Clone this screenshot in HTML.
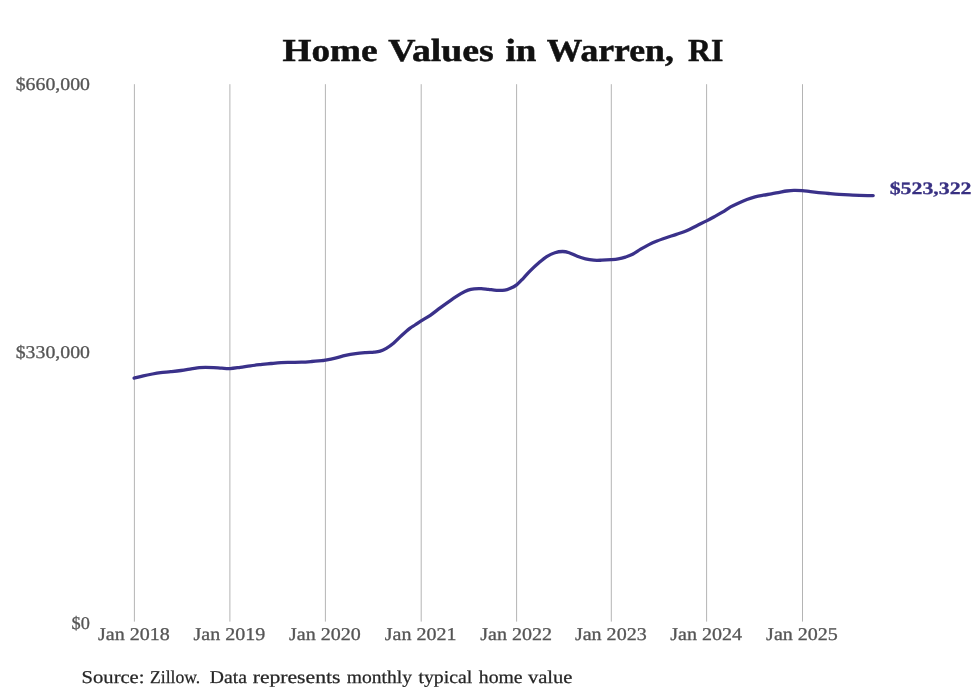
<!DOCTYPE html>
<html lang="en">
<head>
<meta charset="utf-8">
<title>Home Values in Warren, RI</title>
<style>
html,body{margin:0;padding:0;background:#ffffff;}
body{width:980px;height:699px;overflow:hidden;font-family:"Liberation Serif",serif;}
svg{display:block;will-change:transform;}
text{font-family:"Liberation Serif",serif;text-rendering:geometricPrecision;}
.tick{fill:#555555;font-size:18.00px;stroke:#555555;stroke-width:0.3px;}
.src{fill:#262626;font-size:18.10px;stroke:#262626;stroke-width:0.25px;}
.title{fill:#111111;font-size:32.00px;font-weight:bold;stroke:#111111;stroke-width:0.5px;}
.val{fill:#383082;font-size:17.40px;font-weight:bold;stroke:#383082;stroke-width:0.3px;}
</style>
</head>
<body>
<svg width="980" height="699" viewBox="0 0 980 699">
<rect x="0" y="0" width="980" height="699" fill="#ffffff"/>
<g stroke="#b4b4b4" stroke-width="1.00" fill="none">
<line x1="134.40" y1="84.20" x2="134.40" y2="621.60"/>
<line x1="229.90" y1="84.20" x2="229.90" y2="621.60"/>
<line x1="325.40" y1="84.20" x2="325.40" y2="621.60"/>
<line x1="421.20" y1="84.20" x2="421.20" y2="621.60"/>
<line x1="516.60" y1="84.20" x2="516.60" y2="621.60"/>
<line x1="611.30" y1="84.20" x2="611.30" y2="621.60"/>
<line x1="706.60" y1="84.20" x2="706.60" y2="621.60"/>
<line x1="802.50" y1="84.20" x2="802.50" y2="621.60"/>
</g>
<path transform="translate(0 0.3)" d="M134.10 377.80 C135.63 377.42 140.25 376.18 143.30 375.50 C146.35 374.82 149.52 374.22 152.40 373.70 C155.28 373.18 157.53 372.78 160.60 372.40 C163.67 372.02 167.40 371.77 170.80 371.40 C174.20 371.03 177.60 370.67 181.00 370.20 C184.40 369.73 188.13 369.08 191.20 368.60 C194.27 368.12 197.02 367.57 199.40 367.30 C201.78 367.03 203.12 367.00 205.50 367.00 C207.88 367.00 210.98 367.15 213.70 367.30 C216.42 367.45 219.08 367.73 221.80 367.90 C224.52 368.07 226.92 368.45 230.00 368.30 C233.08 368.15 236.88 367.47 240.30 367.00 C243.72 366.53 247.10 365.95 250.50 365.50 C253.90 365.05 257.30 364.68 260.70 364.30 C264.10 363.92 267.50 363.53 270.90 363.20 C274.30 362.87 277.70 362.48 281.10 362.30 C284.50 362.12 287.90 362.17 291.30 362.10 C294.70 362.03 298.10 362.05 301.50 361.90 C304.90 361.75 308.30 361.47 311.70 361.20 C315.10 360.93 319.58 360.53 321.90 360.30 C324.22 360.07 323.37 360.22 325.60 359.80 C327.83 359.38 331.98 358.58 335.30 357.80 C338.62 357.02 342.10 355.85 345.50 355.10 C348.90 354.35 352.30 353.77 355.70 353.30 C359.10 352.83 362.83 352.55 365.90 352.30 C368.97 352.05 371.72 352.05 374.10 351.80 C376.48 351.55 378.17 351.43 380.20 350.80 C382.23 350.17 384.08 349.32 386.30 348.00 C388.52 346.68 390.95 345.03 393.50 342.90 C396.05 340.77 398.88 337.67 401.60 335.20 C404.32 332.73 407.57 329.85 409.80 328.10 C412.03 326.35 413.12 325.95 415.00 324.70 C416.88 323.45 418.55 322.22 421.10 320.60 C423.65 318.98 427.07 317.22 430.30 315.00 C433.53 312.78 437.10 309.80 440.50 307.30 C443.90 304.80 447.30 302.32 450.70 300.00 C454.10 297.68 458.00 295.10 460.90 293.40 C463.80 291.70 465.88 290.62 468.10 289.80 C470.32 288.98 472.00 288.75 474.20 288.50 C476.40 288.25 478.92 288.20 481.30 288.30 C483.68 288.40 485.95 288.82 488.50 289.10 C491.05 289.38 493.88 289.88 496.60 290.00 C499.32 290.12 502.58 290.08 504.80 289.80 C507.02 289.52 507.93 289.17 509.90 288.30 C511.87 287.43 514.37 286.32 516.60 284.60 C518.83 282.88 521.00 280.38 523.30 278.00 C525.60 275.62 527.85 272.85 530.40 270.30 C532.95 267.75 535.88 265.03 538.60 262.70 C541.32 260.37 543.98 258.02 546.70 256.30 C549.42 254.58 552.25 253.25 554.90 252.40 C557.55 251.55 560.22 251.20 562.60 251.20 C564.98 251.20 566.75 251.60 569.20 252.40 C571.65 253.20 574.58 254.97 577.30 256.00 C580.02 257.03 582.77 257.95 585.50 258.60 C588.23 259.25 590.98 259.68 593.70 259.90 C596.42 260.12 598.90 259.98 601.80 259.90 C604.70 259.82 608.35 259.62 611.10 259.40 C613.85 259.18 615.92 259.03 618.30 258.60 C620.68 258.17 623.02 257.57 625.40 256.80 C627.78 256.03 630.05 255.32 632.60 254.00 C635.15 252.68 637.98 250.52 640.70 248.90 C643.42 247.28 646.18 245.67 648.90 244.30 C651.62 242.93 654.12 241.85 657.00 240.70 C659.88 239.55 662.97 238.50 666.20 237.40 C669.43 236.30 673.00 235.25 676.40 234.10 C679.80 232.95 683.20 231.95 686.60 230.50 C690.00 229.05 693.47 227.05 696.80 225.40 C700.13 223.75 703.68 222.08 706.60 220.60 C709.52 219.12 711.67 217.95 714.30 216.50 C716.93 215.05 719.68 213.55 722.40 211.90 C725.12 210.25 727.87 208.15 730.60 206.60 C733.33 205.05 736.08 203.83 738.80 202.60 C741.52 201.37 744.18 200.20 746.90 199.20 C749.62 198.20 752.37 197.32 755.10 196.60 C757.83 195.88 760.58 195.40 763.30 194.90 C766.02 194.40 768.68 194.08 771.40 193.60 C774.12 193.12 777.05 192.48 779.60 192.00 C782.15 191.52 784.32 191.03 786.70 190.70 C789.08 190.37 791.32 190.07 793.90 190.00 C796.48 189.93 799.45 190.07 802.20 190.30 C804.95 190.53 807.67 191.07 810.40 191.40 C813.13 191.73 815.53 192.00 818.60 192.30 C821.67 192.60 825.40 192.92 828.80 193.20 C832.20 193.48 835.60 193.77 839.00 194.00 C842.40 194.23 845.80 194.42 849.20 194.60 C852.60 194.78 856.33 194.98 859.40 195.10 C862.47 195.22 865.30 195.27 867.60 195.30 C869.90 195.33 872.27 195.30 873.20 195.30" fill="none" stroke="#3a318a" stroke-width="3.30" stroke-linecap="round" stroke-linejoin="round"/>
<text class="title" x="282.50" y="61.00" textLength="95.00" lengthAdjust="spacingAndGlyphs">Home</text>
<text class="title" x="388.20" y="61.00" textLength="105.60" lengthAdjust="spacingAndGlyphs">Values</text>
<text class="title" x="505.50" y="61.00" textLength="30.80" lengthAdjust="spacingAndGlyphs">in</text>
<text class="title" x="546.80" y="61.00" textLength="127.00" lengthAdjust="spacingAndGlyphs">Warren,</text>
<text class="title" x="688.00" y="61.00" textLength="35.30" lengthAdjust="spacingAndGlyphs">RI</text>
<text class="tick" x="15.70" y="90.00" textLength="74.30" lengthAdjust="spacingAndGlyphs">$660,000</text>
<text class="tick" x="15.70" y="358.00" textLength="74.30" lengthAdjust="spacingAndGlyphs">$330,000</text>
<text class="tick" x="71.60" y="629.00" textLength="18.30" lengthAdjust="spacingAndGlyphs">$0</text>
<text class="tick" x="98.00" y="640.00" textLength="71.80" lengthAdjust="spacingAndGlyphs">Jan 2018</text>
<text class="tick" x="193.50" y="640.00" textLength="71.80" lengthAdjust="spacingAndGlyphs">Jan 2019</text>
<text class="tick" x="289.00" y="640.00" textLength="71.80" lengthAdjust="spacingAndGlyphs">Jan 2020</text>
<text class="tick" x="384.80" y="640.00" textLength="71.80" lengthAdjust="spacingAndGlyphs">Jan 2021</text>
<text class="tick" x="480.20" y="640.00" textLength="71.80" lengthAdjust="spacingAndGlyphs">Jan 2022</text>
<text class="tick" x="574.90" y="640.00" textLength="71.80" lengthAdjust="spacingAndGlyphs">Jan 2023</text>
<text class="tick" x="670.20" y="640.00" textLength="71.80" lengthAdjust="spacingAndGlyphs">Jan 2024</text>
<text class="tick" x="766.10" y="640.00" textLength="71.80" lengthAdjust="spacingAndGlyphs">Jan 2025</text>
<text class="val" x="889.70" y="194.00" textLength="81.80" lengthAdjust="spacingAndGlyphs">$523,322</text>
<text class="src" x="81.60" y="683.00" textLength="62.90" lengthAdjust="spacingAndGlyphs">Source:</text>
<text class="src" x="150.00" y="683.00" textLength="50.20" lengthAdjust="spacingAndGlyphs">Zillow.</text>
<text class="src" x="209.70" y="683.00" textLength="37.20" lengthAdjust="spacingAndGlyphs">Data</text>
<text class="src" x="252.70" y="683.00" textLength="87.70" lengthAdjust="spacingAndGlyphs">represents</text>
<text class="src" x="346.80" y="683.00" textLength="65.20" lengthAdjust="spacingAndGlyphs">monthly</text>
<text class="src" x="418.40" y="683.00" textLength="53.80" lengthAdjust="spacingAndGlyphs">typical</text>
<text class="src" x="478.80" y="683.00" textLength="43.80" lengthAdjust="spacingAndGlyphs">home</text>
<text class="src" x="527.90" y="683.00" textLength="44.60" lengthAdjust="spacingAndGlyphs">value</text>
</svg>
</body>
</html>
